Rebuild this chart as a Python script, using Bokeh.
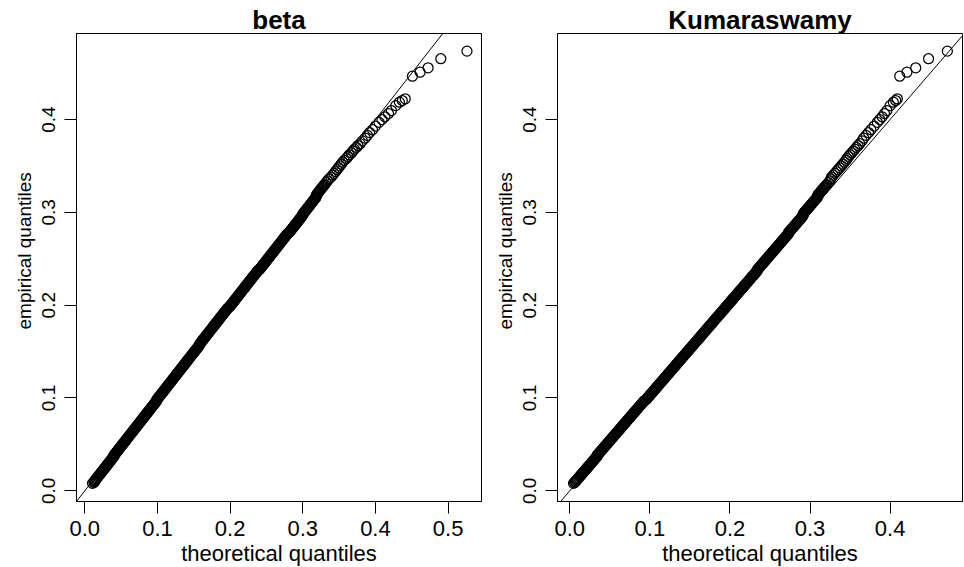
from bokeh.plotting import figure
from bokeh.layouts import row
from bokeh.models import Range1d, FixedTicker, PrintfTickFormatter, Slope, Title
from bokeh.embed import file_html
from bokeh.resources import INLINE

# empirical quantiles (sorted sample, shared by both panels)
y_emp = [
    0.008, 0.009, 0.010, 0.011, 0.012, 0.013, 0.014,
    0.015, 0.016, 0.017, 0.018, 0.019, 0.020, 0.021, 0.022, 0.023, 0.024,
    0.025, 0.026, 0.027, 0.028, 0.029, 0.030, 0.031, 0.032, 0.033, 0.034,
    0.035, 0.036, 0.037, 0.038, 0.039, 0.040, 0.041, 0.042, 0.043, 0.044,
    0.045, 0.046, 0.047, 0.048, 0.049, 0.050, 0.051, 0.052, 0.053, 0.054,
    0.055, 0.056, 0.057, 0.058, 0.059, 0.060, 0.061, 0.062, 0.063, 0.064,
    0.065, 0.066, 0.067, 0.068, 0.069, 0.070, 0.071, 0.072, 0.073, 0.074,
    0.075, 0.076, 0.077, 0.078, 0.079, 0.080, 0.081, 0.082, 0.083, 0.084,
    0.085, 0.086, 0.087, 0.088, 0.089, 0.090, 0.091, 0.092, 0.093, 0.094,
    0.095, 0.096, 0.097, 0.098, 0.099, 0.100, 0.101, 0.102, 0.103, 0.104,
    0.105, 0.106, 0.107, 0.108, 0.109, 0.110, 0.111, 0.112, 0.113, 0.114,
    0.115, 0.116, 0.117, 0.118, 0.119, 0.120, 0.121, 0.122, 0.123, 0.124,
    0.125, 0.126, 0.127, 0.128, 0.129, 0.130, 0.131, 0.132, 0.133, 0.134,
    0.135, 0.136, 0.137, 0.138, 0.139, 0.140, 0.141, 0.142, 0.143, 0.144,
    0.145, 0.146, 0.147, 0.148, 0.149, 0.150, 0.151, 0.152, 0.153, 0.154,
    0.155, 0.156, 0.157, 0.158, 0.159, 0.160, 0.161, 0.162, 0.163, 0.164,
    0.165, 0.166, 0.167, 0.168, 0.169, 0.170, 0.171, 0.172, 0.173, 0.174,
    0.175, 0.176, 0.177, 0.178, 0.179, 0.180, 0.181, 0.182, 0.183, 0.184,
    0.185, 0.186, 0.187, 0.188, 0.189, 0.190, 0.191, 0.192, 0.193, 0.194,
    0.195, 0.196, 0.197, 0.198, 0.199, 0.200, 0.201, 0.202, 0.203, 0.204,
    0.205, 0.206, 0.207, 0.208, 0.209, 0.210, 0.211, 0.212, 0.213, 0.214,
    0.215, 0.216, 0.217, 0.218, 0.219, 0.220, 0.221, 0.222, 0.223, 0.224,
    0.225, 0.226, 0.227, 0.228, 0.229, 0.230, 0.231, 0.232, 0.233, 0.234,
    0.235, 0.236, 0.237, 0.238, 0.239, 0.240, 0.241, 0.242, 0.243, 0.244,
    0.245, 0.246, 0.247, 0.248, 0.249, 0.250, 0.251, 0.252, 0.253, 0.254,
    0.255, 0.256, 0.257, 0.258, 0.259, 0.260, 0.261, 0.262, 0.263, 0.264,
    0.265, 0.266, 0.267, 0.268, 0.269, 0.270, 0.271, 0.272, 0.273, 0.274,
    0.275, 0.276, 0.277, 0.278, 0.279, 0.280, 0.281, 0.282, 0.283, 0.284,
    0.285, 0.286, 0.287, 0.288, 0.289, 0.290, 0.291, 0.292, 0.293, 0.294,
    0.295, 0.296, 0.297, 0.298, 0.299, 0.300, 0.301, 0.302, 0.303, 0.304,
    0.305, 0.306, 0.307, 0.308, 0.309, 0.310, 0.311, 0.312, 0.313, 0.314,
    0.315, 0.316, 0.317, 0.318, 0.319, 0.320, 0.321, 0.322, 0.323, 0.324,
    0.325, 0.326, 0.327, 0.328, 0.329, 0.330,
    0.332, 0.334, 0.336, 0.338, 0.340, 0.342, 0.344, 0.346, 0.348, 0.350,
    0.352, 0.354, 0.356, 0.358, 0.360, 0.362, 0.364, 0.366, 0.368, 0.370,
    0.372, 0.374, 0.377,
    0.380, 0.383, 0.386, 0.389, 0.393, 0.397, 0.400, 0.403, 0.4065, 0.4097,
    0.415, 0.4187, 0.4205, 0.4223, 0.4467, 0.451, 0.4557, 0.4655, 0.4737,
]

# theoretical quantiles of the fitted beta distribution
x_beta = [
    0.0106, 0.0125, 0.0135, 0.014, 0.015, 0.016, 0.017,
    0.018, 0.019, 0.020, 0.021, 0.022, 0.023, 0.024, 0.025, 0.026, 0.027,
    0.028, 0.029, 0.030, 0.031, 0.032, 0.033, 0.034, 0.035, 0.036, 0.037,
    0.038, 0.039, 0.040, 0.040, 0.041, 0.042, 0.043, 0.044, 0.045, 0.046,
    0.047, 0.048, 0.049, 0.050, 0.051, 0.052, 0.053, 0.054, 0.055, 0.056,
    0.057, 0.058, 0.059, 0.060, 0.061, 0.062, 0.063, 0.064, 0.065, 0.066,
    0.067, 0.068, 0.069, 0.070, 0.071, 0.072, 0.073, 0.074, 0.075, 0.076,
    0.077, 0.078, 0.079, 0.080, 0.081, 0.082, 0.083, 0.084, 0.085, 0.086,
    0.087, 0.088, 0.089, 0.090, 0.091, 0.092, 0.093, 0.094, 0.095, 0.096,
    0.097, 0.098, 0.099, 0.099, 0.100, 0.101, 0.102, 0.103, 0.104, 0.105,
    0.106, 0.107, 0.108, 0.109, 0.110, 0.111, 0.112, 0.113, 0.114, 0.115,
    0.116, 0.117, 0.118, 0.119, 0.120, 0.121, 0.122, 0.123, 0.124, 0.125,
    0.126, 0.127, 0.128, 0.129, 0.130, 0.131, 0.132, 0.133, 0.134, 0.135,
    0.136, 0.137, 0.138, 0.139, 0.140, 0.141, 0.142, 0.143, 0.144, 0.145,
    0.146, 0.147, 0.148, 0.149, 0.150, 0.151, 0.152, 0.153, 0.154, 0.155,
    0.156, 0.157, 0.158, 0.158, 0.159, 0.160, 0.161, 0.162, 0.163, 0.164,
    0.165, 0.166, 0.167, 0.168, 0.169, 0.170, 0.171, 0.172, 0.173, 0.174,
    0.175, 0.176, 0.177, 0.178, 0.179, 0.180, 0.181, 0.182, 0.183, 0.184,
    0.185, 0.186, 0.187, 0.188, 0.189, 0.190, 0.191, 0.192, 0.193, 0.194,
    0.195, 0.196, 0.197, 0.199, 0.200, 0.201, 0.202, 0.203, 0.204, 0.205,
    0.206, 0.207, 0.208, 0.209, 0.210, 0.211, 0.212, 0.213, 0.214, 0.215,
    0.216, 0.217, 0.218, 0.219, 0.220, 0.221, 0.222, 0.223, 0.224, 0.225,
    0.226, 0.227, 0.228, 0.229, 0.230, 0.231, 0.232, 0.233, 0.234, 0.235,
    0.236, 0.237, 0.238, 0.240, 0.241, 0.242, 0.243, 0.244, 0.245, 0.246,
    0.247, 0.248, 0.249, 0.250, 0.251, 0.252, 0.253, 0.254, 0.255, 0.256,
    0.257, 0.258, 0.259, 0.260, 0.261, 0.262, 0.263, 0.264, 0.265, 0.266,
    0.267, 0.268, 0.269, 0.270, 0.271, 0.272, 0.273, 0.274, 0.275, 0.276,
    0.277, 0.278, 0.279, 0.281, 0.282, 0.283, 0.284, 0.285, 0.286, 0.287,
    0.288, 0.289, 0.290, 0.291, 0.292, 0.293, 0.294, 0.295, 0.296, 0.297,
    0.298, 0.299, 0.300, 0.300, 0.301, 0.302, 0.303, 0.304, 0.305, 0.306,
    0.307, 0.308, 0.309, 0.310, 0.311, 0.312, 0.313, 0.314, 0.315, 0.316,
    0.317, 0.318, 0.318, 0.319, 0.319, 0.320, 0.321, 0.322, 0.323, 0.324,
    0.325, 0.326, 0.327, 0.328, 0.329, 0.330,
    0.332, 0.334, 0.336, 0.339, 0.341, 0.343, 0.345, 0.347, 0.349, 0.351,
    0.353, 0.355, 0.357, 0.360, 0.362, 0.364, 0.367, 0.369, 0.371, 0.374,
    0.376, 0.379, 0.382,
    0.386, 0.389, 0.392, 0.396, 0.400, 0.405, 0.409, 0.413, 0.418, 0.422,
    0.428, 0.433, 0.437, 0.441, 0.451, 0.4615, 0.4725, 0.490, 0.526,
]

# theoretical quantiles of the fitted Kumaraswamy distribution
x_kuma = [
    0.0046, 0.006, 0.007, 0.008, 0.009, 0.010, 0.011,
    0.012, 0.013, 0.014, 0.015, 0.016, 0.017, 0.018, 0.019, 0.020, 0.021,
    0.022, 0.023, 0.024, 0.025, 0.026, 0.027, 0.028, 0.029, 0.030, 0.031,
    0.032, 0.033, 0.034, 0.034, 0.035, 0.036, 0.037, 0.038, 0.039, 0.040,
    0.041, 0.042, 0.043, 0.044, 0.045, 0.046, 0.047, 0.048, 0.049, 0.050,
    0.051, 0.052, 0.053, 0.054, 0.055, 0.056, 0.057, 0.058, 0.059, 0.060,
    0.061, 0.062, 0.063, 0.064, 0.065, 0.066, 0.067, 0.068, 0.069, 0.070,
    0.071, 0.072, 0.073, 0.074, 0.075, 0.076, 0.077, 0.078, 0.079, 0.080,
    0.081, 0.082, 0.083, 0.084, 0.085, 0.086, 0.087, 0.088, 0.089, 0.090,
    0.091, 0.092, 0.093, 0.095, 0.096, 0.097, 0.098, 0.099, 0.100, 0.101,
    0.102, 0.103, 0.104, 0.105, 0.106, 0.107, 0.108, 0.109, 0.110, 0.111,
    0.112, 0.113, 0.114, 0.115, 0.116, 0.117, 0.118, 0.119, 0.120, 0.121,
    0.122, 0.123, 0.124, 0.125, 0.126, 0.127, 0.128, 0.129, 0.130, 0.131,
    0.132, 0.133, 0.134, 0.135, 0.136, 0.137, 0.138, 0.139, 0.140, 0.141,
    0.142, 0.143, 0.144, 0.145, 0.146, 0.147, 0.148, 0.149, 0.150, 0.151,
    0.152, 0.153, 0.154, 0.155, 0.156, 0.157, 0.158, 0.159, 0.160, 0.161,
    0.162, 0.163, 0.164, 0.165, 0.166, 0.167, 0.168, 0.169, 0.170, 0.171,
    0.172, 0.173, 0.174, 0.175, 0.176, 0.177, 0.178, 0.179, 0.180, 0.181,
    0.182, 0.183, 0.184, 0.185, 0.186, 0.187, 0.188, 0.189, 0.190, 0.191,
    0.192, 0.193, 0.194, 0.195, 0.196, 0.197, 0.198, 0.199, 0.200, 0.201,
    0.202, 0.203, 0.204, 0.205, 0.206, 0.207, 0.208, 0.209, 0.210, 0.211,
    0.212, 0.213, 0.214, 0.215, 0.216, 0.217, 0.218, 0.219, 0.220, 0.221,
    0.222, 0.223, 0.224, 0.225, 0.226, 0.227, 0.228, 0.229, 0.230, 0.231,
    0.232, 0.233, 0.234, 0.234, 0.235, 0.236, 0.237, 0.238, 0.239, 0.240,
    0.241, 0.242, 0.243, 0.244, 0.245, 0.246, 0.247, 0.248, 0.249, 0.250,
    0.251, 0.252, 0.253, 0.254, 0.255, 0.256, 0.257, 0.258, 0.259, 0.260,
    0.261, 0.262, 0.263, 0.264, 0.265, 0.266, 0.267, 0.268, 0.269, 0.270,
    0.271, 0.272, 0.273, 0.273, 0.274, 0.275, 0.276, 0.277, 0.278, 0.279,
    0.280, 0.281, 0.282, 0.283, 0.284, 0.285, 0.286, 0.287, 0.288, 0.289,
    0.290, 0.291, 0.291, 0.292, 0.292, 0.293, 0.294, 0.295, 0.296, 0.297,
    0.298, 0.299, 0.300, 0.301, 0.302, 0.303, 0.304, 0.305, 0.306, 0.307,
    0.308, 0.309, 0.309, 0.310, 0.310, 0.311, 0.312, 0.313, 0.314, 0.315,
    0.316, 0.317, 0.318, 0.319, 0.320, 0.321,
    0.323, 0.325, 0.326, 0.327, 0.329, 0.331, 0.333, 0.335, 0.337, 0.339,
    0.341, 0.343, 0.345, 0.346, 0.348, 0.350, 0.352, 0.354, 0.356, 0.358,
    0.360, 0.362, 0.365,
    0.367, 0.370, 0.373, 0.376, 0.380, 0.384, 0.387, 0.390, 0.393, 0.396,
    0.400, 0.404, 0.407, 0.409, 0.412, 0.421, 0.432, 0.448, 0.4715,
]

if not (len(y_emp) == len(x_beta) == len(x_kuma)):
    raise ValueError(f"length mismatch {len(y_emp)} {len(x_beta)} {len(x_kuma)}")

titles = ["beta", "Kumaraswamy"]
x_label = "theoretical quantiles"
y_label = "empirical quantiles"
x_ticks_beta = [0.0, 0.1, 0.2, 0.3, 0.4, 0.5]
x_ticks_kuma = [0.0, 0.1, 0.2, 0.3, 0.4]
y_ticks = [0.0, 0.1, 0.2, 0.3, 0.4]
ref_slope = 1.0
ref_intercept = 0.0

FONT = "Liberation Sans"
Y_RANGE = (-0.01154, 0.4927)
FRAME_W, FRAME_H = 405, 468


def make_panel(title, xs, ys, xr, x_ticks, border_left, border_right):
    p = figure(
        output_backend="svg", toolbar_location=None,
        frame_width=FRAME_W, frame_height=FRAME_H,
        min_border_left=border_left, min_border_right=border_right,
        min_border_top=33, min_border_bottom=66,
        x_range=Range1d(*xr), y_range=Range1d(*Y_RANGE),
        title=title,
    )
    p.background_fill_color = "white"
    p.border_fill_color = "white"
    p.outline_line_color = "black"
    p.outline_line_width = 1
    p.outline_line_alpha = 1
    p.xgrid.visible = False
    p.ygrid.visible = False

    p.title.text_font = FONT
    p.title.text_font_size = "26px"
    p.title.text_font_style = "bold"
    p.title.align = "center"
    p.title.standoff = -2
    p.title.text_color = "black"

    for ax in (p.xaxis[0], p.yaxis[0]):
        ax.axis_line_color = "black"
        ax.major_tick_line_color = "black"
        ax.major_tick_out = 12
        ax.major_tick_in = 0
        ax.minor_tick_line_color = None
        ax.major_label_text_font = FONT
        ax.major_label_text_color = "black"
        ax.axis_label_text_font = FONT
        ax.axis_label_text_font_style = "normal"
        ax.axis_label_text_color = "black"
        ax.formatter = PrintfTickFormatter(format="%.1f")

    xa = p.xaxis[0]
    xa.major_label_text_font_size = "22px"
    xa.axis_label_text_font_size = "22px"
    xa.major_label_standoff = 7
    xa.axis_label_standoff = 2
    xa.axis_label = x_label
    ya = p.yaxis[0]
    ya.major_label_text_font_size = "19px"
    ya.major_label_standoff = 9

    p.xaxis.ticker = FixedTicker(ticks=x_ticks)
    p.yaxis.ticker = FixedTicker(ticks=y_ticks)
    p.yaxis.major_label_orientation = "parallel"

    # y axis title as a side title, anchored so that it sits a little above
    # the frame centre, as in the original
    p.add_layout(Title(text=y_label, align="left", offset=172, standoff=10,
                       text_font=FONT, text_font_size="19px",
                       text_font_style="normal", text_color="black"), "left")

    p.add_layout(Slope(gradient=ref_slope, y_intercept=ref_intercept,
                       line_color="black", line_width=1))
    p.scatter(xs, ys, marker="circle", size=10, fill_color=None,
              line_color="black", line_width=1.25)
    return p


p1 = make_panel(titles[0], x_beta, y_emp, (-0.01142, 0.546), x_ticks_beta, 76, 1)
p2 = make_panel(titles[1], x_kuma, y_emp, (-0.01536, 0.4904), x_ticks_kuma, 75, 2)

layout = row(p1, p2)
open("out.html", "w").write(file_html(layout, INLINE))
